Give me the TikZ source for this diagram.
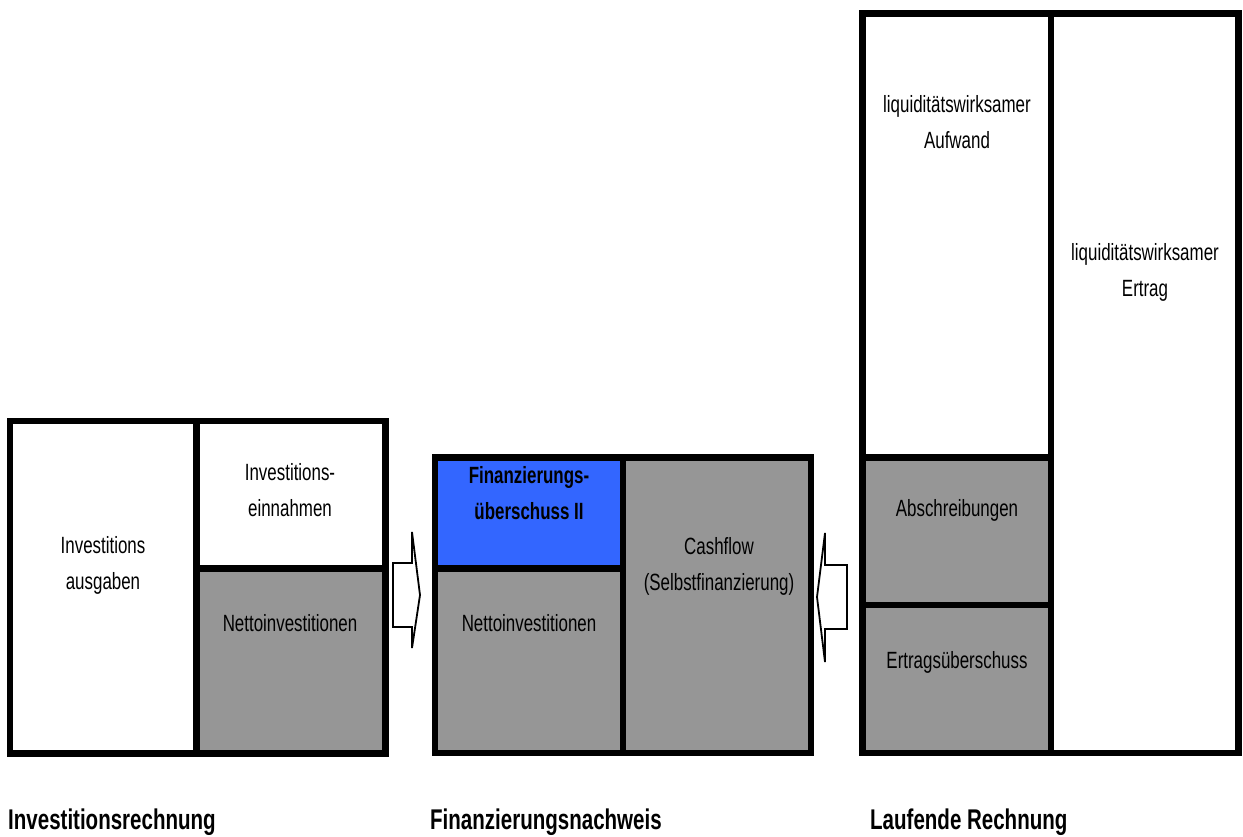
\documentclass[tikz,border=0pt]{standalone}
\usepackage{fontspec}
\setmainfont{Liberation Sans}[FakeStretch=0.72]
\definecolor{cellgray}{RGB}{150,150,150}
\definecolor{cellblue}{RGB}{51,102,255}
\tikzset{
  cell/.style={draw=black, line width=6.5pt, line join=miter, inner sep=0pt, rectangle},
  wcell/.style={cell, fill=white},
  gcell/.style={cell, fill=cellgray},
  bcell/.style={cell, fill=cellblue},
  txt/.style={align=center, inner sep=0pt, font=\fontsize{23.5}{36}\selectfont},
  btxt/.style={txt, font=\fontsize{23.5}{36}\selectfont\bfseries},
  caption/.style={anchor=west, inner sep=0pt, font=\fontsize{28.5}{32}\selectfont\bfseries},
  blockarrow/.style={draw=black, fill=white, line width=1.8pt, line join=miter}
}
\begin{document}
\begin{tikzpicture}[x=1pt, y=-1pt]
\useasboundingbox (0,0) rectangle (1243,836);
% left group
\node[wcell, minimum width=186.5pt, minimum height=332.5pt] (ausg) at (103.25,587.25) {};
\node[wcell, minimum width=189pt, minimum height=147.5pt] (einn) at (291,494.75) {};
\node[gcell, minimum width=189pt, minimum height=185pt] (netto1) at (291,661) {};
% middle group
\node[bcell, minimum width=188pt, minimum height=111pt] (fue) at (529,513) {};
\node[gcell, minimum width=188pt, minimum height=184.5pt] (netto2) at (529,660.75) {};
\node[gcell, minimum width=188pt, minimum height=295.5pt] (cash) at (717,605.25) {};
% right group
\node[wcell, minimum width=188.5pt, minimum height=444pt] (aufw) at (956.75,235.5) {};
\node[gcell, minimum width=188.5pt, minimum height=147.5pt] (abs) at (956.75,531.25) {};
\node[gcell, minimum width=188.5pt, minimum height=148pt] (ertue) at (956.75,679) {};
\node[wcell, minimum width=187.5pt, minimum height=739.5pt] (ertr) at (1144.75,383.25) {};
% texts
\node[txt] (t1) at (103,565) {Investitions\\ausgaben};
\node[txt] (t2) at (290,490) {Investitions-\\einnahmen};
\node[txt] (t3) at (290,623) {Nettoinvestitionen};
\node[btxt] (t4) at (529,493) {Finanzierungs-\\überschuss II};
\node[txt] (t5) at (529,623) {Nettoinvestitionen};
\node[txt] (t6) at (719,566) {Cashflow\\(Selbstfinanzierung)};
\node[txt] (t7) at (957,122) {liquiditätswirksamer\\Aufwand};
\node[txt] (t8) at (1145,272) {liquiditätswirksamer\\Ertrag};
\node[txt] (t9) at (957,510) {Abschreibungen};
\node[txt] (t10) at (957,662) {Ertragsüberschuss};
% captions
\node[caption] (c1) at (8,822) {Investitionsrechnung};
\node[caption] (c2) at (430,822) {Finanzierungsnachweis};
\node[caption] (c3) at (870,822) {Laufende Rechnung};
% block arrows
\draw[blockarrow] (393,563) -- (412,563) -- (412,532) -- (420,595) -- (412,648) -- (412,627) -- (393,627) -- cycle;
\draw[blockarrow] (847,565) -- (825,565) -- (825,533) -- (817,597) -- (825,662) -- (825,629) -- (847,629) -- cycle;
\end{tikzpicture}
\end{document}
